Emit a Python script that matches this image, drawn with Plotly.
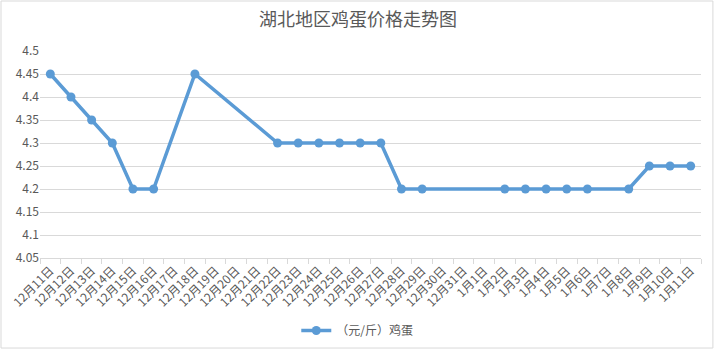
import plotly.graph_objects as go

categories = [f"12月{d}日" for d in range(11, 32)] + [f"1月{d}日" for d in range(1, 12)]
prices = [4.45, 4.4, 4.35, 4.3, 4.2, 4.2, None, 4.45, None, None, None,
          4.3, 4.3, 4.3, 4.3, 4.3, 4.3, 4.2, 4.2, None, None, None,
          4.2, 4.2, 4.2, 4.2, 4.2, None, 4.2, 4.25, 4.25, 4.25]
y_ticks = [4.05, 4.1, 4.15, 4.2, 4.25, 4.3, 4.35, 4.4, 4.45, 4.5]
y_ticktext = ["4.05", "4.1", "4.15", "4.2", "4.25", "4.3", "4.35", "4.4", "4.45", "4.5"]

font_family = "Noto Sans CJK SC, Noto Sans, sans-serif"
gray = "#595959"

fig = go.Figure()
fig.add_trace(go.Scatter(
    x=categories, y=prices, mode="lines+markers", name="（元/斤）鸡蛋",
    connectgaps=True,
    line=dict(color="#5b9bd5", width=3.5),
    marker=dict(color="#5b9bd5", size=9),
))

fig.update_layout(
    width=716, height=353,
    margin=dict(l=40, r=15, t=51, b=95, autoexpand=False),
    paper_bgcolor="white", plot_bgcolor="white",
    title=dict(text="湖北地区鸡蛋价格走势图", x=0.5, xanchor="center", y=0.945, yanchor="middle",
               font=dict(family=font_family, size=18, color=gray)),
    font=dict(family=font_family, size=11, color=gray),
    showlegend=True,
    legend=dict(orientation="h", x=0.48, xanchor="center", y=-0.35, yanchor="middle",
                font=dict(family=font_family, size=12, color=gray)),
    xaxis=dict(type="category", range=[-0.5, len(categories) - 0.5],
               tickangle=-45, tickson="boundaries", ticks="outside",
               ticklen=5, tickcolor="#d9d9d9", showline=True, linecolor="#d9d9d9",
               linewidth=1, showgrid=False, automargin=False,
               tickfont=dict(size=12, color=gray)),
    yaxis=dict(range=[4.05, 4.5], tickvals=y_ticks, ticktext=y_ticktext,
               showgrid=True, gridcolor="#d9d9d9", gridwidth=1, zeroline=False,
               showline=False, ticks="", automargin=False,
               tickfont=dict(size=12, color=gray)),
)
fig.add_shape(type="rect", xref="paper", yref="paper", x0=-0.059, x1=1.018, y0=-0.435, y1=1.2415,
              line=dict(color="#d9d9d9", width=1), fillcolor="rgba(0,0,0,0)")

fig.write_html("out.html")
